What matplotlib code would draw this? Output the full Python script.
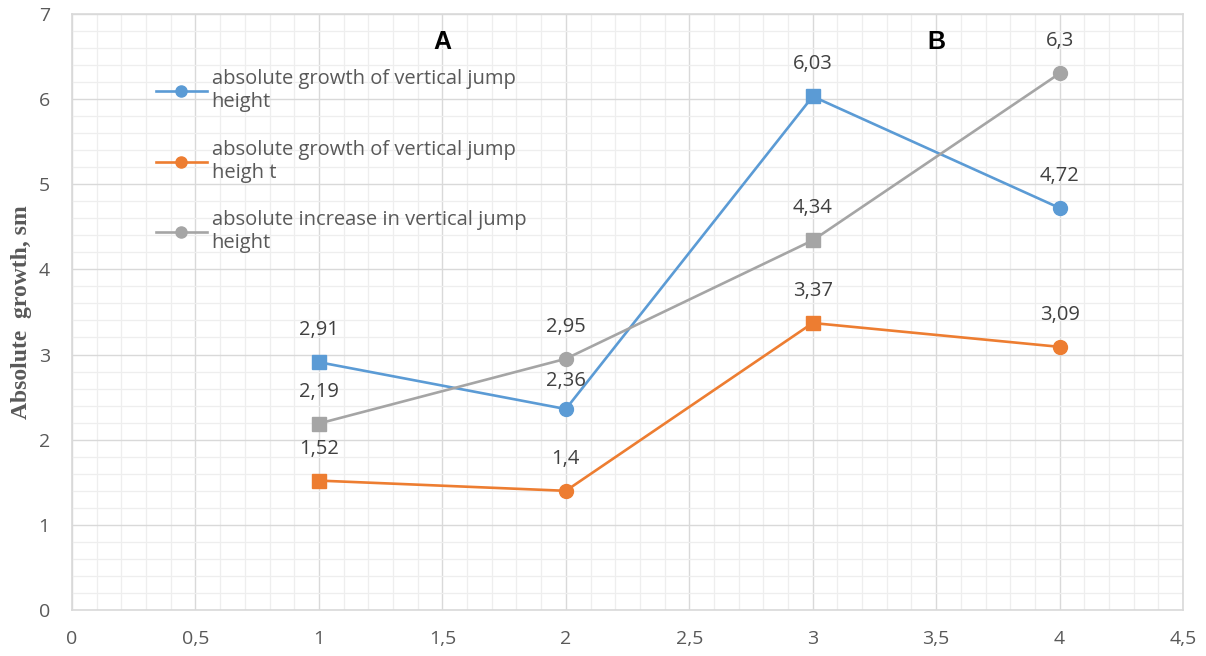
import matplotlib
matplotlib.use("Agg")
import matplotlib.pyplot as plt
from matplotlib.lines import Line2D
from matplotlib.ticker import MultipleLocator, FuncFormatter

plt.rcParams['font.family'] = ['Open Sans', 'DejaVu Sans']

# stages on the x axis
stage = [1, 2, 3, 4]

# absolute growth, sm
growth_1 = [2.91, 2.36, 6.03, 4.72]
growth_2 = [1.52, 1.4, 3.37, 3.09]
increase = [2.19, 2.95, 4.34, 6.3]

names = ['absolute growth of vertical jump\nheight',
         'absolute growth of vertical jump\nheigh t',
         'absolute increase in vertical jump\nheight']
colors = ['#5b9bd5', '#ed7d31', '#a5a5a5']
series = [growth_1, growth_2, increase]

fig = plt.figure(figsize=(12.06, 6.56), dpi=100)
ax = fig.add_axes([0.0597, 0.070, 0.9213, 0.909])

for vals, c in zip(series, colors):
    ax.plot(stage, vals, color=c, lw=1.9, zorder=3)
    # squares on 1 and 3, circles on 2 and 4
    ax.plot(stage[0::2], vals[0::2], ls='none', marker='s', ms=10, color=c, zorder=4)
    ax.plot(stage[1::2], vals[1::2], ls='none', marker='o', ms=10, color=c, zorder=4)

# value labels above the points
for si, vals in enumerate(series):
    for i, (x, v) in enumerate(zip(stage, vals)):
        dy = 23
        if si == 0 and i == 1:
            dy = 20
        ax.annotate(str(v).replace('.', ','), (x, v), xytext=(0, dy),
                    textcoords='offset points', ha='center', va='center',
                    fontsize=14.5, color='#404040')

ax.text(1.5, 6.67, 'A', fontsize=18, fontweight='bold', ha='center', va='center',
        family=['Liberation Sans', 'DejaVu Sans'])
ax.text(3.5, 6.67, 'B', fontsize=18, fontweight='bold', ha='center', va='center',
        family=['Liberation Sans', 'DejaVu Sans'])

ax.set_xlim(0, 4.5)
ax.set_ylim(0, 7)
ax.xaxis.set_major_locator(MultipleLocator(0.5))
ax.xaxis.set_minor_locator(MultipleLocator(0.1))
ax.yaxis.set_major_locator(MultipleLocator(1))
ax.yaxis.set_minor_locator(MultipleLocator(0.2))
fmt = FuncFormatter(lambda v, p: ('%g' % v).replace('.', ','))
ax.xaxis.set_major_formatter(fmt)
ax.yaxis.set_major_formatter(fmt)
ax.tick_params(which='both', length=0, labelsize=14, labelcolor='#595959')
ax.tick_params(axis='x', pad=14)
ax.tick_params(axis='y', pad=16)
ax.grid(which='major', color='#d9d9d9', lw=1.0)
ax.grid(which='minor', color='#eeeeee', lw=0.9)
ax.set_axisbelow(True)
for s in ax.spines.values():
    s.set_color('#d9d9d9')
    s.set_linewidth(1.2)

ax.set_ylabel('Absolute  growth, sm', fontsize=17, fontweight='bold',
              family=['Liberation Serif', 'DejaVu Serif'], color='#595959', labelpad=5)

handles = [Line2D([], [], color=c, lw=1.9, marker='o', ms=8) for c in colors]
ax.legend(handles, names, loc='upper left', bbox_to_anchor=(0.0595, 0.937),
          frameon=False, fontsize=14.5, labelcolor='#595959', handlelength=2.5,
          handletextpad=0.25, labelspacing=1.35)

fig.savefig('out.png', dpi=100)
